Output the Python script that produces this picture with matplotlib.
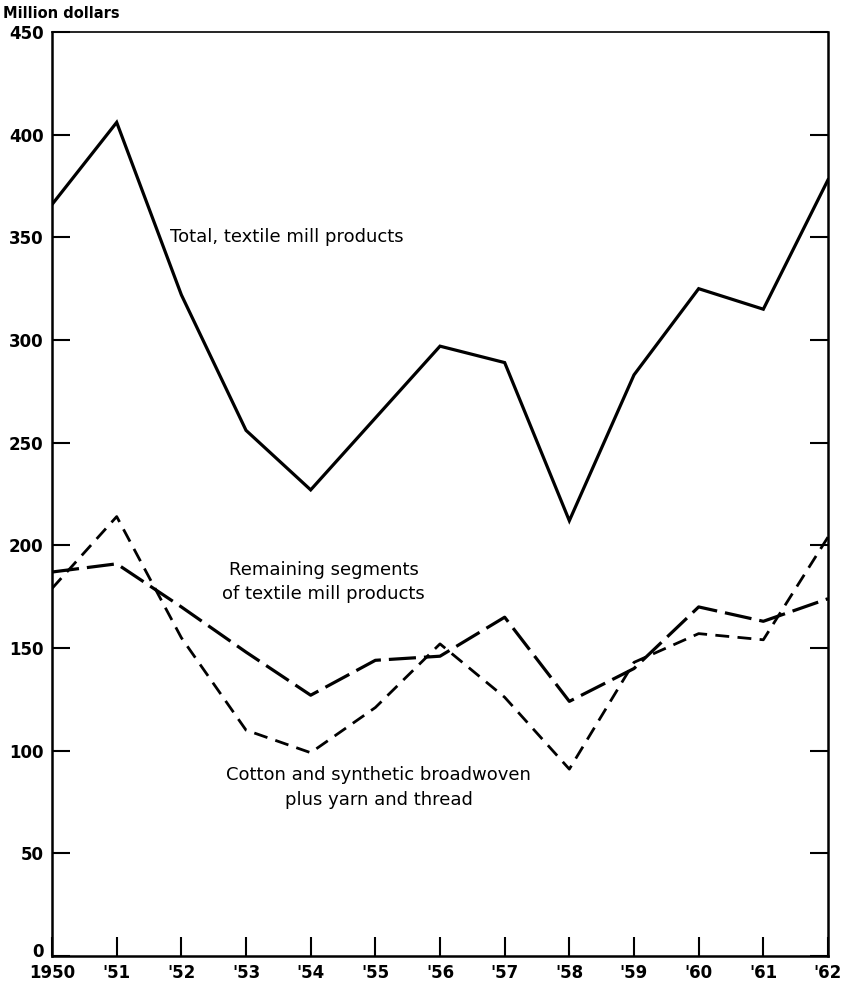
import matplotlib
matplotlib.use("Agg")
import matplotlib.pyplot as plt
import matplotlib.transforms as mtransforms

years = list(range(1950, 1963))
xlabels = ["1950", "'51", "'52", "'53", "'54", "'55", "'56", "'57", "'58", "'59", "'60", "'61", "'62"]
total = [366, 406, 322, 256, 227, 262, 297, 289, 212, 283, 325, 315, 378]
remaining = [187, 191, 170, 148, 127, 144, 146, 165, 124, 140, 170, 163, 174]
cotton = [179, 214, 155, 110, 99, 121, 152, 126, 91, 143, 157, 154, 204]
yticks = [0, 50, 100, 150, 200, 250, 300, 350, 400, 450]

plt.rcParams['font.family'] = ['DejaVu Sans']
fig = plt.figure(figsize=(8.46, 9.82), dpi=100)
ax = fig.add_axes([0.0615, 0.0265, 0.9172, 0.9409])

ax.plot(years, total, color='black', lw=2.3, solid_joinstyle='miter')
ax.plot(years, remaining, color='black', lw=2.3, dashes=(8.5, 2.5))
ax.plot(years, cotton, color='black', lw=2.0, dashes=(5, 3))

ax.set_xlim(1950, 1962)
ax.set_ylim(0, 450)
ax.set_xticks(years)
ax.set_xticklabels(xlabels)
ax.set_yticks(yticks)
ax.tick_params(axis='y', direction='in', length=13, width=1.5, left=True, right=True,
               labelsize=12, pad=6)
ax.tick_params(axis='x', direction='in', length=14, width=1.5, bottom=True, top=False,
               labelsize=12, pad=6)
for lab in ax.get_xticklabels() + ax.get_yticklabels():
    lab.set_fontweight('bold')
zero_lab = ax.get_yticklabels()[0]
zero_lab.set_transform(zero_lab.get_transform() +
                       mtransforms.ScaledTranslation(0, 4 / 72, fig.dpi_scale_trans))
for s in ['left', 'bottom', 'right']:
    ax.spines[s].set_linewidth(1.8)
ax.spines['top'].set_linewidth(1.2)

ax.text(1951.82, 350, "Total, textile mill products", fontsize=13, ha='left', va='center')
ax.text(1954.2, 182, "Remaining segments\nof textile mill products", fontsize=13,
        ha='center', va='center', linespacing=1.45)
ax.text(1955.05, 82, "Cotton and synthetic broadwoven\nplus yarn and thread", fontsize=13,
        ha='center', va='center', linespacing=1.45)
fig.text(0.003, 0.986, "Million dollars", fontsize=10.5, fontweight='bold', ha='left', va='center')

fig.savefig("out.png", dpi=100)
